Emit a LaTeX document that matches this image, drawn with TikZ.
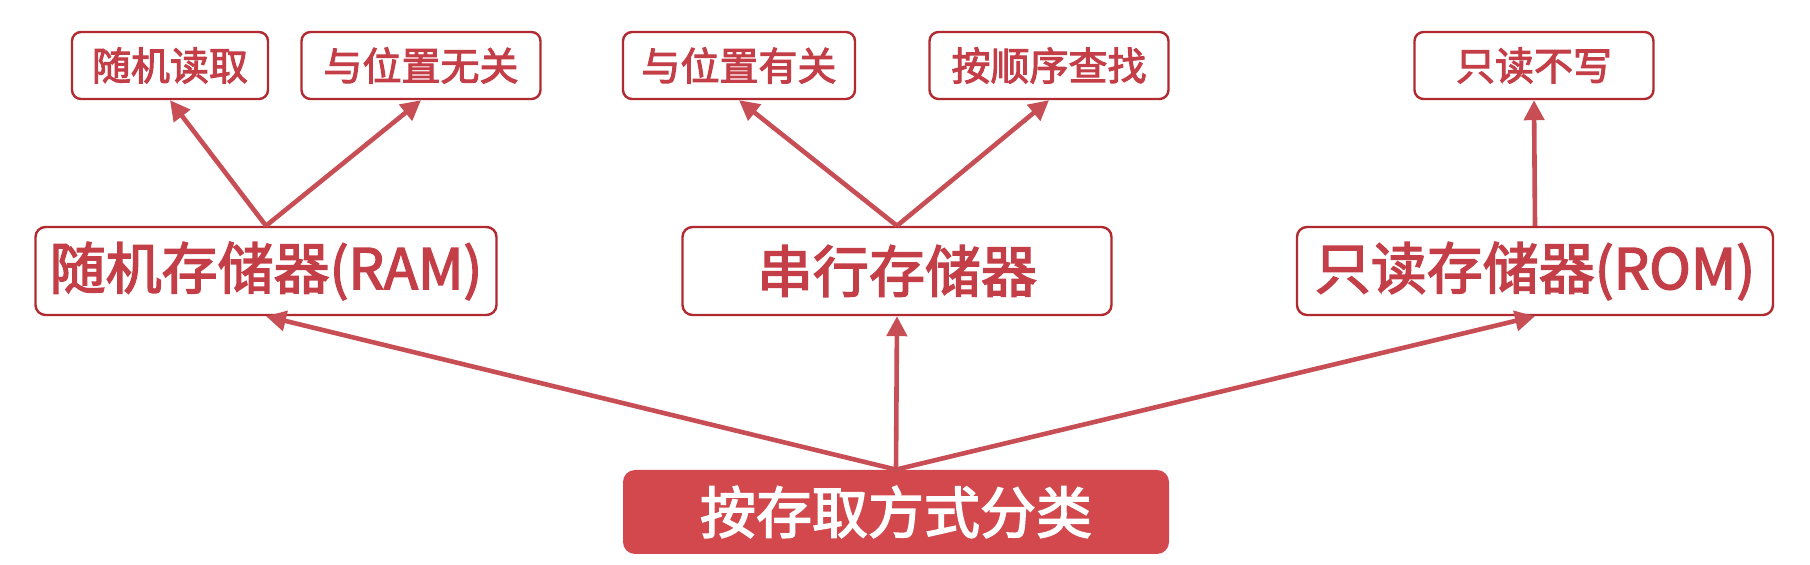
\documentclass[tikz,border=0pt]{standalone}
\usepackage{fontspec}
\usepackage{xcolor}
\usepackage{tikz}
\usetikzlibrary{arrows.meta, positioning}
\newfontfamily\cjk[FakeBold=2.6]{Noto Sans CJK SC}
\definecolor{boxred}{RGB}{176, 42, 48}
\definecolor{txtred}{RGB}{196, 62, 72}
\definecolor{arrred}{RGB}{200, 78, 86}
\definecolor{fillred}{RGB}{210, 72, 76}

\begin{document}
\begin{tikzpicture}[x=0.5pt, y=-0.5pt,
  small/.style={draw=boxred, line width=1.2pt, fill=white, rounded corners=4.5pt, minimum width=#1, minimum height=33.5pt, text=txtred, font=\cjk\fontsize{19.5}{22}\selectfont, inner sep=0pt},
  big/.style={draw=boxred, line width=1.2pt, fill=white, rounded corners=5pt, minimum width=#1, minimum height=44pt, text=txtred, font=\cjk\fontsize{28}{30}\selectfont, inner sep=0pt},
  arrow/.style={-{Triangle[length=10pt, width=10pt]}, line width=2.3pt, color=arrred}
]
  \useasboundingbox (0,0) rectangle (1810,565);
  % root
  \node[fill=fillred, rounded corners=6pt, minimum width=273pt, minimum height=42pt, text=white, font=\cjk\fontsize{28}{30}\selectfont, inner sep=0pt] (root) at (896,512) {按存取方式分类};
  % second level
  \node[big=230.5pt] (ram) at (266,271) {随机存储器(RAM)};
  \node[big=214.5pt] (ser) at (897,271) {串行存储器};
  \node[big=238pt] (rom) at (1535,271) {只读存储器(ROM)};
  % leaves
  \node[small=98pt] (rr) at (170,65.5) {随机读取};
  \node[small=119.5pt] (wg) at (421,65.5) {与位置无关};
  \node[small=116pt] (yg) at (739,65.5) {与位置有关};
  \node[small=119.5pt] (sx) at (1049,65.5) {按顺序查找};
  \node[small=119.5pt] (zd) at (1534,65.5) {只读不写};

  \draw[arrow] (root.north) -- (ram.south);
  \draw[arrow] (root.north) -- (ser.south);
  \draw[arrow] (root.north) -- (rom.south);
  \draw[arrow] (ram.north) -- (rr.south);
  \draw[arrow] (ram.north) -- (wg.south);
  \draw[arrow] (ser.north) -- (yg.south);
  \draw[arrow] (ser.north) -- (sx.south);
  \draw[arrow] (rom.north) -- (zd.south);
\end{tikzpicture}
\end{document}
